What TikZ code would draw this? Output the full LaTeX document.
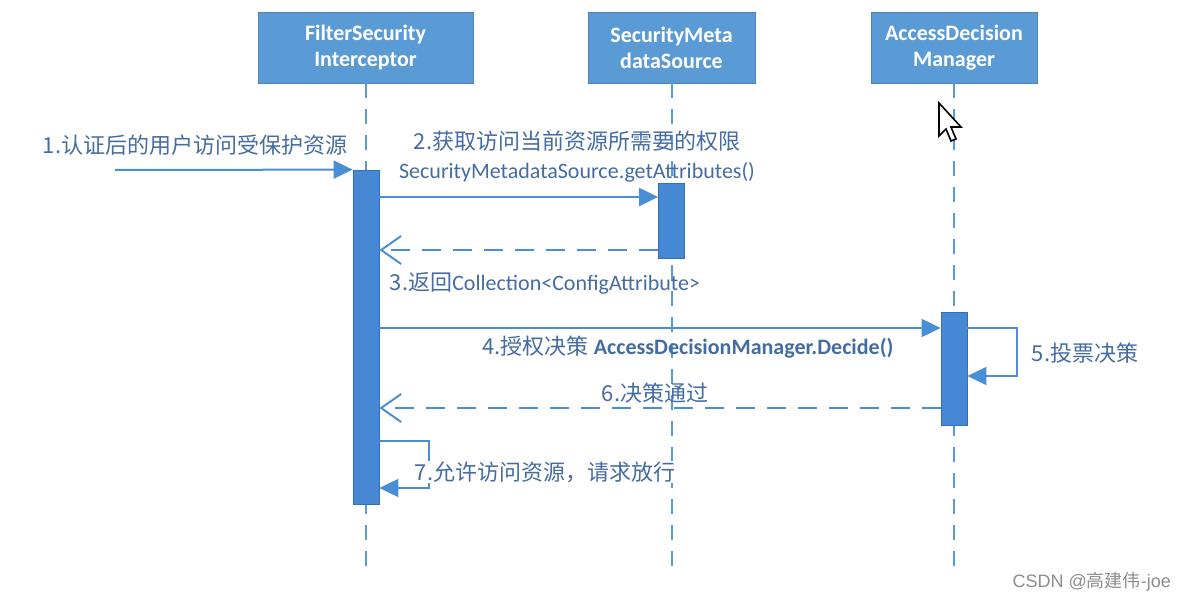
\documentclass[tikz,border=0pt]{standalone}
\usepackage{fontspec}
\setmainfont{Carlito}
\newfontfamily\cjk{Noto Sans CJK SC}
\newfontfamily\wmfont{Liberation Sans}
\usetikzlibrary{arrows.meta}
\definecolor{boxblue}{RGB}{91,155,213}
\definecolor{barblue}{RGB}{70,136,212}
\definecolor{barline}{RGB}{52,110,182}
\definecolor{msgblue}{RGB}{74,142,212}
\definecolor{lblblue}{RGB}{68,108,162}

\begin{document}
\begin{tikzpicture}[x=1pt,y=1pt,yscale=-1,xscale=1,
  headbox/.style={fill=boxblue,draw=boxblue!85!black,line width=0.6pt,text=white,
    font=\fontsize{22}{26}\selectfont\bfseries,align=center,minimum height=71pt},
  lifeline/.style={draw=boxblue,line width=2pt,dash pattern=on 15pt off 11pt},
  actbar/.style={fill=barblue,draw=barline,line width=0.8pt,minimum width=26pt,inner sep=0pt},
  msg/.style={draw=msgblue,line width=2pt,-{Triangle[length=19pt,width=18pt]}},
  ret/.style={draw=msgblue,line width=2pt,dash pattern=on 19pt off 12pt,
    -{Straight Barb[length=20pt,width=28pt,line width=2pt]}},
  lbl/.style={text=lblblue,inner sep=1pt,font=\fontsize{22}{29}\selectfont}]
\useasboundingbox (0,0) rectangle (1186,604);

%Shape: Rectangle [headers]
\node[headbox,minimum width=215pt] (fsi) at (365.5,47.5) {FilterSecurity\\Interceptor};
\node[headbox,minimum width=167pt] (smd) at (671.5,47.5) {SecurityMeta\\dataSource};
\node[headbox,minimum width=166pt] (adm) at (954,47.5) {AccessDecision\\Manager};

%Straight Lines [lifelines]
\coordinate (lend) at (0,568);
\draw[lifeline] (fsi.south) -- (fsi.south |- lend);
\draw[lifeline] (smd.south) -- (smd.south |- lend);
\draw[lifeline] (adm.south) -- (adm.south |- lend);

%Shape: Rectangle [activations]
\node[actbar,minimum height=334pt] (a1) at (366,337) {};
\node[actbar,minimum height=75pt] (a2) at (671.5,220.5) {};
\node[actbar,minimum height=113pt] (a3) at (954,368.5) {};

%message rows
\coordinate (m1) at (115,170);
\coordinate (m2) at (0,197);
\coordinate (m3) at (0,250);
\coordinate (m4) at (0,328);
\coordinate (m5) at (0,376);
\coordinate (m6) at (0,408);
\coordinate (m7) at (0,441);
\coordinate (m8) at (0,488);

%Straight Lines [messages]
\draw[msg] (m1) -- (a1.north west);
\draw[msg] (a1.east |- m2) -- (a2.west |- m2);
\draw[ret] (a2.west |- m3) -- (a1.east |- m3);
\draw[msg] (a1.east |- m4) -- (a3.west |- m4);
\draw[msg] (a3.east |- m4) -- ++(50,0) |- (a3.east |- m5);
\draw[ret] (a3.west |- m6) -- (a1.east |- m6);
\draw[msg] (a1.east |- m7) -- ++(50,0) |- (a1.east |- m8);

%Text [labels]
\node[lbl] (l1) at (195,145) {\cjk 1.认证后的用户访问受保护资源};
\node[lbl,align=center] (l2) at (577,157) {{\cjk 2.获取访问当前资源所需要的权限}\\SecurityMetadataSource.getAttributes()};
\node[lbl] (l3) at (545,283) {{\cjk 3.返回}Collection<ConfigAttribute>};
\node[lbl] (l4) at (688,347) {{\cjk 4.授权决策} \textbf{AccessDecisionManager.Decide()}};
\node[lbl] (l5) at (1085,353) {\cjk 5.投票决策};
\node[lbl] (l6) at (655,393) {\cjk 6.决策通过};
\node[lbl,fill=white] (l7) at (545,472) {\cjk 7.允许访问资源，请求放行};

%Shape: Polygon [cursor]
\draw[fill=white,line width=1.6pt,line join=miter] (939,103) -- ++(0,33) -- ++(7,-7) -- ++(5,12) -- ++(5,-2) -- ++(-5,-12) -- ++(10,0) -- cycle;

%Text [watermark]
\node[text=black!45,anchor=east,inner sep=0pt,font=\fontsize{18}{20}\selectfont\wmfont] (wm) at (1171,582) {CSDN @{\cjk 高建伟}-joe};
\end{tikzpicture}
\end{document}
